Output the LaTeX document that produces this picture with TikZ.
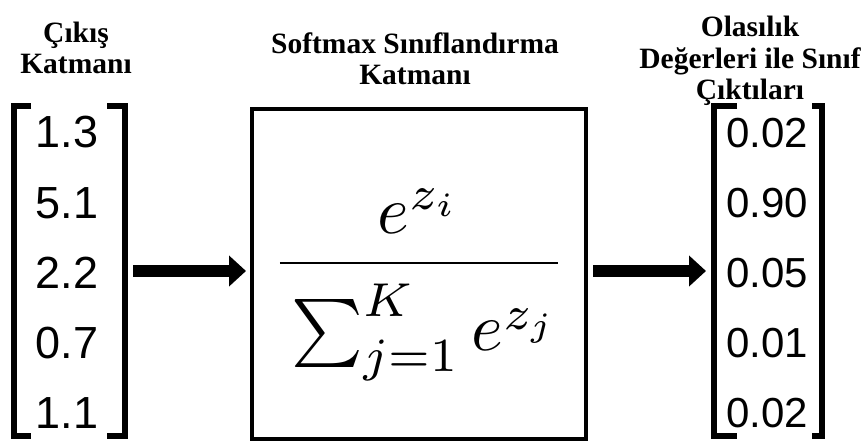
\documentclass[tikz,border=0pt]{standalone}
\usepackage{fontspec}
\usepackage{graphicx}
\newfontfamily\titlefont{Liberation Serif}
\newfontfamily\numfont{Liberation Sans}
\usetikzlibrary{arrows.meta}
\begin{document}
\begin{tikzpicture}[x=1pt,y=-1pt,
  title/.style={font=\titlefont\bfseries\fontsize{29.5}{31.5}\selectfont, align=center, inner sep=0pt},
  lnum/.style={font=\numfont\fontsize{45}{45}\selectfont, inner sep=0pt},
  rnum/.style={font=\numfont\fontsize{42}{42}\selectfont, inner sep=0pt},
  brk/.style={line width=6.5pt},
  bigarrow/.style={line width=12pt, -{Triangle[length=17pt,width=30pt]}},
  softbox/.style={draw, line width=4pt, minimum width=334pt, minimum height=330pt, inner sep=0pt}
]
\useasboundingbox (0,0) rectangle (868,441);
% titles
\node[title] (t1) at (76,48) {Çıkış\\Katmanı};
\node[title] (t2) at (415,59) {Softmax Sınıflandırma\\Katmanı};
\node[title] (t3) at (750,61) {Olasılık\\Değerleri ile Sınıf\\Çıktıları};
% left column
\node[lnum] (l1) at (67,132) {1.3};
\node[lnum] (l2) at (67,203) {5.1};
\node[lnum] (l3) at (67,273) {2.2};
\node[lnum] (l4) at (67,343) {0.7};
\node[lnum] (l5) at (67,413) {1.1};
\draw[brk] (31,106) -- (14,106) -- (14,436) -- (31,436);
\draw[brk] (107,106) -- (125,106) -- (125,436) -- (107,436);
% softmax box
\node[softbox] (box) at (419,274) {};
\node[inner sep=0pt, anchor=base] (frac) at (419,280)
  {\scalebox{6.8}{$\displaystyle\frac{e^{z_i}}{\rule{0pt}{11.5pt}\sum_{j=1}^{K} e^{z_j}}$}};
% right column
\node[rnum] (r1) at (767,133) {0.02};
\node[rnum] (r2) at (767,203) {0.90};
\node[rnum] (r3) at (767,273) {0.05};
\node[rnum] (r4) at (767,343) {0.01};
\node[rnum] (r5) at (767,413) {0.02};
\draw[brk] (737,106) -- (714,106) -- (714,436) -- (737,436);
\draw[brk] (812,106) -- (822,106) -- (822,436) -- (812,436);
% arrows
\coordinate (lout) at (133,271);
\coordinate (rin) at (711,271);
\draw[bigarrow, shorten >=4pt] (lout) -- (lout -| box.west);
\draw[bigarrow, shorten <=5pt, shorten >=5pt] (box.east |- lout) -- (rin);
\end{tikzpicture}
\end{document}
